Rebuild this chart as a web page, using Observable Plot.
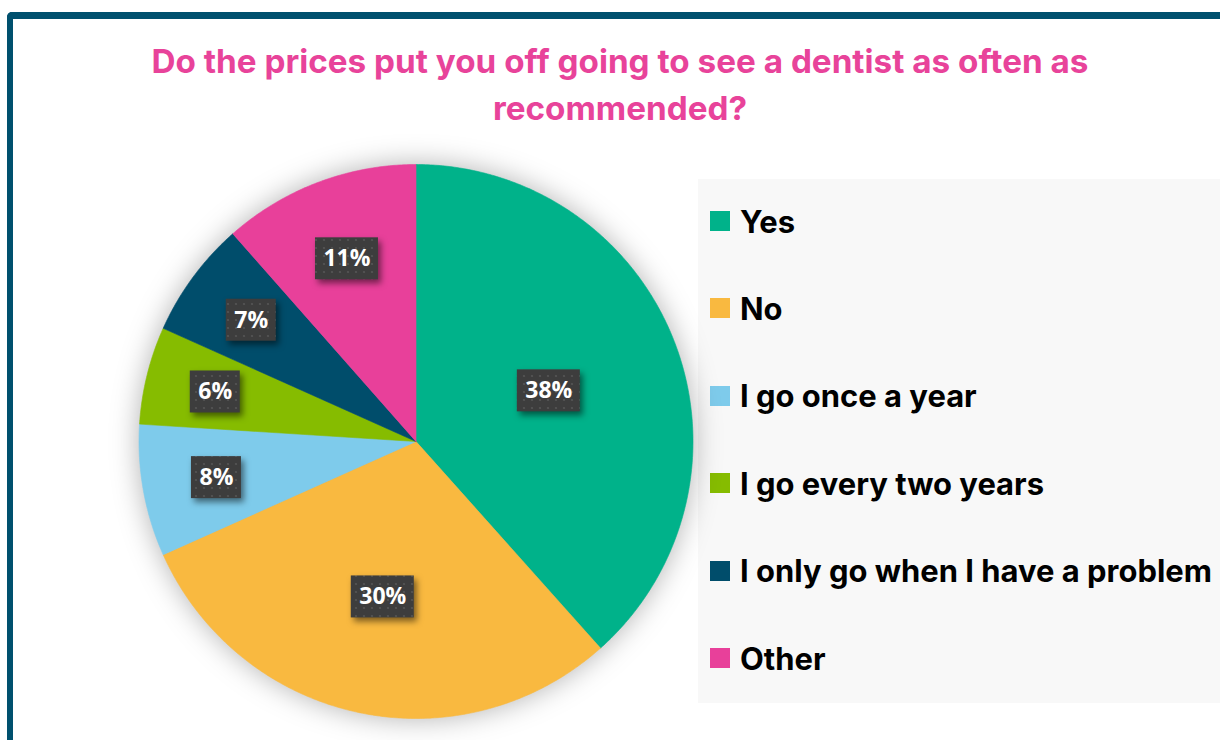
<!DOCTYPE html>
<html><head><meta charset="utf-8">
<script src="https://cdn.jsdelivr.net/npm/d3@7"></script>
<script src="https://cdn.jsdelivr.net/npm/@observablehq/plot@0.6"></script>
<style>
html,body{margin:0;padding:0;background:#fff;width:1220px;height:740px;overflow:hidden;position:relative;}
#frame{position:absolute;left:7px;top:12px;width:1230px;height:760px;border-left:6px solid #00506e;border-top:7px solid #00506e;border-top-left-radius:5px;box-sizing:border-box;}
#title{position:absolute;left:0;top:38px;width:1240px;text-align:center;color:#e8439a;font-family:Inter, "Noto Sans", sans-serif;font-weight:700;line-height:47px;white-space:nowrap;}
#legend{position:absolute;left:698px;top:179px;width:540px;height:524px;background:#f8f8f8;}
.item{position:absolute;left:12px;height:30px;display:flex;align-items:center;font-family:Inter, "Noto Sans", sans-serif;font-weight:700;color:#000;white-space:nowrap;}
.sw{width:20px;height:20px;margin-right:10px;flex:none;}
#chart{position:absolute;left:0;top:140px;}
</style></head>
<body>
<div id="frame"></div>
<div id="title"></div>
<div id="legend"></div>
<div id="chart"></div>
<script>
const categories = ["Yes","No","I go once a year","I go every two years","I only go when I have a problem","Other"];
const sliceValues = [38.4, 29.9, 7.7, 5.7, 6.8, 11.5];
const labelTexts = ["38%","30%","8%","6%","7%","11%"];
const colors = ["#00b28a","#f9b940","#7ecbeb","#86bc00","#004d6b","#e8409a"];
const titleLines = ["Do the prices put you off going to see a dentist as often as","recommended?"];

// helpers for fitting text widths
const ctx = document.createElement("canvas").getContext("2d");
function fitSize(text, family, weight, target){
  ctx.font = `${weight} 100px ${family}`;
  return 100 * target / ctx.measureText(text).width;
}
const fam = 'Inter, "Noto Sans", sans-serif';

// title
const tEl = document.getElementById("title");
tEl.style.fontSize = fitSize(titleLines[0], fam, 700, 937).toFixed(2) + "px";
tEl.innerHTML = titleLines.join("<br>");

// legend
const lg = document.getElementById("legend");
const longest = categories.reduce((a,b)=> a.length>b.length?a:b);
const lsize = fitSize(longest, fam, 700, 472);
categories.forEach((c,i)=>{
  const d = document.createElement("div");
  d.className = "item";
  d.style.top = (27 + i*87.4) + "px";
  d.style.fontSize = lsize.toFixed(2) + "px";
  d.innerHTML = `<span class="sw" style="background:${colors[i]}"></span><span>${c}</span>`;
  lg.appendChild(d);
});

// pie geometry
const R = 277; // px radius
const W = 700, H = 600, cx = 415.5, cy = 301;
const arcs = d3.pie().sort(null).value(d=>d)(sliceValues);
const slicePts = [];
arcs.forEach((a,i)=>{
  const cat = categories[i];
  slicePts.push({cat, x:0, y:0});
  const n = Math.max(4, Math.ceil((a.endAngle-a.startAngle)/(Math.PI/360)));
  for(let k=0;k<=n;k++){
    const t = a.startAngle + (a.endAngle-a.startAngle)*k/n;
    slicePts.push({cat, x:Math.sin(t), y:Math.cos(t)});
  }
  slicePts.push({cat, x:0, y:0});
});
const labelData = arcs.map((a,i)=>{
  const mid = (a.startAngle+a.endAngle)/2;
  const r = 0.787 - 0.00713*sliceValues[i];
  const text = labelTexts[i];
  const hw = (13*text.length + 24)/2 / R;
  const hh = 21 / R;
  const x = r*Math.sin(mid), y = r*Math.cos(mid);
  return {text, x, y, x1:x-hw, x2:x+hw, y1:y-hh, y2:y+hh};
});

const plot = Plot.plot({
  width: W, height: H,
  marginLeft: cx - R, marginRight: W - cx - R,
  marginTop: cy - R, marginBottom: H - cy - R,
  x: {domain: [-1,1], axis: null},
  y: {domain: [-1,1], axis: null},
  color: {domain: categories, range: colors},
  style: {background: "transparent", overflow: "visible"},
  marks: [
    Plot.line(slicePts, {x:"x", y:"y", z:"cat", fill:"cat", stroke:"cat", strokeWidth:0.6, curve:"linear"}),
    Plot.rect(labelData, {x1:"x1", x2:"x2", y1:"y1", y2:"y2", fill:"url(#dots)"}),
    Plot.text(labelData, {x:"x", y:"y", text:"text", fill:"white", fontSize:23, fontWeight:700, fontFamily:'"Open Sans", sans-serif'})
  ]
});
document.getElementById("chart").appendChild(plot);
const NS = "http://www.w3.org/2000/svg";
const defs = document.createElementNS(NS, "defs");
defs.innerHTML = `<pattern id="dots" patternUnits="userSpaceOnUse" width="8" height="8">
  <rect width="8" height="8" fill="#3d3d3d"></rect>
  <circle cx="4" cy="4" r="1.1" fill="#555555"></circle>
</pattern>`;
plot.insertBefore(defs, plot.firstChild);
const g1 = plot.querySelector('g[aria-label="line"]');
if (g1) g1.style.filter = "drop-shadow(0px 0px 14px rgba(0,0,0,0.3))";
const g2 = plot.querySelector('g[aria-label="rect"]');
if (g2) g2.style.filter = "drop-shadow(3px 4px 3px rgba(0,0,0,0.5))";
</script>
</body></html>
